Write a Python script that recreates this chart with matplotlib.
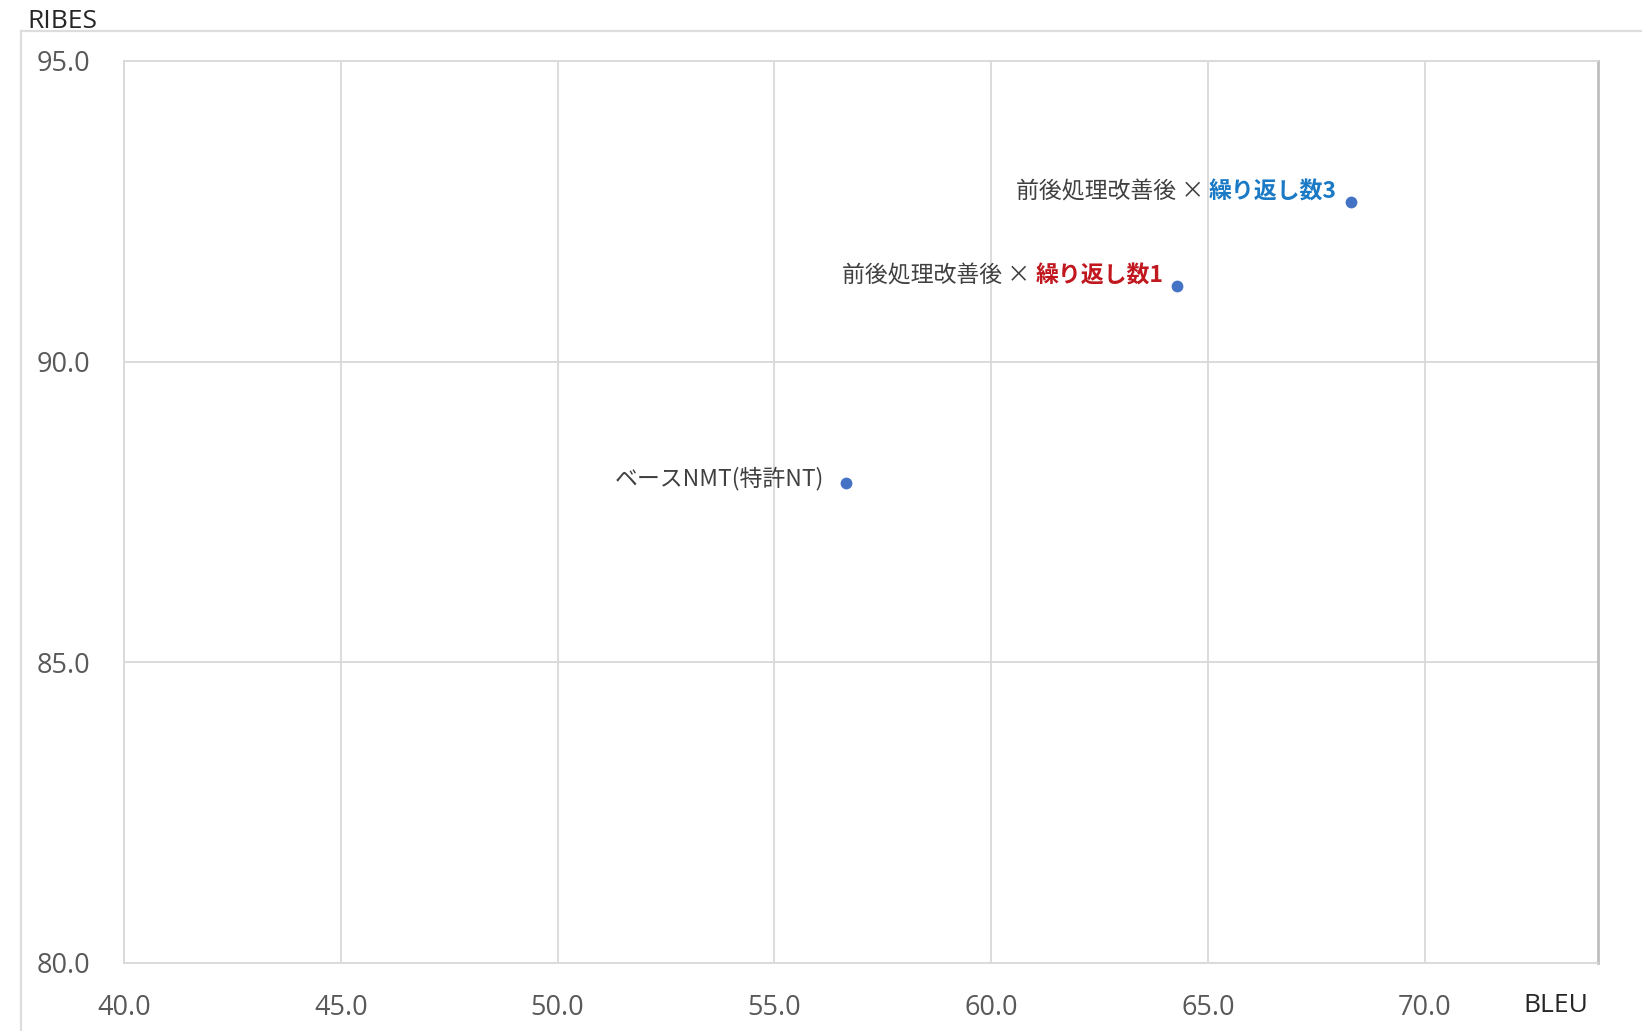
import matplotlib
matplotlib.use("Agg")
import matplotlib.pyplot as plt
from matplotlib.lines import Line2D

# Scores per system
bleu = [56.66, 64.30, 68.30]
ribes = [87.99, 91.26, 92.66]
label_plain = ["ベースNMT(特許NT)", "前後処理改善後 × ", "前後処理改善後 × "]
label_emph = ["", "繰り返し数1", "繰り返し数3"]
emph_colors = ["#404040", "#C0181E", "#1B7AC6"]

x_ticks = [40.0, 45.0, 50.0, 55.0, 60.0, 65.0, 70.0]
y_ticks = [80.0, 85.0, 90.0, 95.0]

W, H = 1642, 1031
fig = plt.figure(figsize=(W / 100, H / 100), dpi=100)
fig.patch.set_facecolor("white")

# outer chart frame (top and left edges)
fig.add_artist(Line2D([21 / W, 1.0], [1 - 31 / H, 1 - 31 / H], color="#DDDDDD", lw=1.6))
fig.add_artist(Line2D([21 / W, 21 / W], [0.0, 1 - 31 / H], color="#DDDDDD", lw=1.6))

ax = fig.add_axes([124 / W, 1 - 963 / H, (1598 - 124) / W, (963 - 61) / H])
ax.set_xlim(40, 74)
ax.set_ylim(80, 95)
ax.set_xticks(x_ticks)
ax.set_yticks(y_ticks)
tick_font = dict(family=["Open Sans", "DejaVu Sans"], size=19.5)
ax.set_xticklabels([f"{v:.1f}" for v in x_ticks], color="#595959", **tick_font)
ax.set_yticklabels([f"{v:.1f}" for v in y_ticks], color="#595959", **tick_font)
ax.tick_params(axis="both", length=0)
ax.tick_params(axis="x", pad=22)
ax.tick_params(axis="y", pad=24)
ax.grid(True, color="#D9D9D9", lw=1.3)
ax.set_axisbelow(True)
for side in ["left", "top", "bottom"]:
    ax.spines[side].set_color("#D9D9D9")
    ax.spines[side].set_linewidth(1.3)
ax.spines["right"].set_color("#BFBFBF")
ax.spines["right"].set_linewidth(2.0)

ax.scatter(bleu, ribes, s=72, color="#4472C4", zorder=3, linewidths=0)

jp = ["Noto Sans CJK JP", "DejaVu Sans"]
for x, y, plain, emph, col in zip(bleu, ribes, label_plain, label_emph, emph_colors):
    if emph:
        t = ax.annotate(emph, xy=(x, y), xytext=(-10, 7), textcoords="offset points",
                        ha="right", va="center", fontsize=16.5, fontweight="bold",
                        color=col, family=jp)
        ax.annotate(plain, xy=(0, 0.5), xycoords=t, xytext=(0, 0),
                    textcoords="offset points", ha="right", va="center",
                    fontsize=16.5, color="#404040", family=jp)
    else:
        ax.annotate(plain, xy=(x, y), xytext=(-16, 3), textcoords="offset points",
                    ha="right", va="center", fontsize=16.5, color="#404040", family=jp)

# axis titles
title_font = dict(family=["Open Sans", "DejaVu Sans"], size=19, color="#262626")
fig.text(27 / W, 1 - 22 / H, "RIBES", ha="left", va="center", **title_font)
fig.text(1523 / W, 1 - 1005 / H, "BLEU", ha="left", va="center", **title_font)

fig.savefig("out.png", dpi=100)
